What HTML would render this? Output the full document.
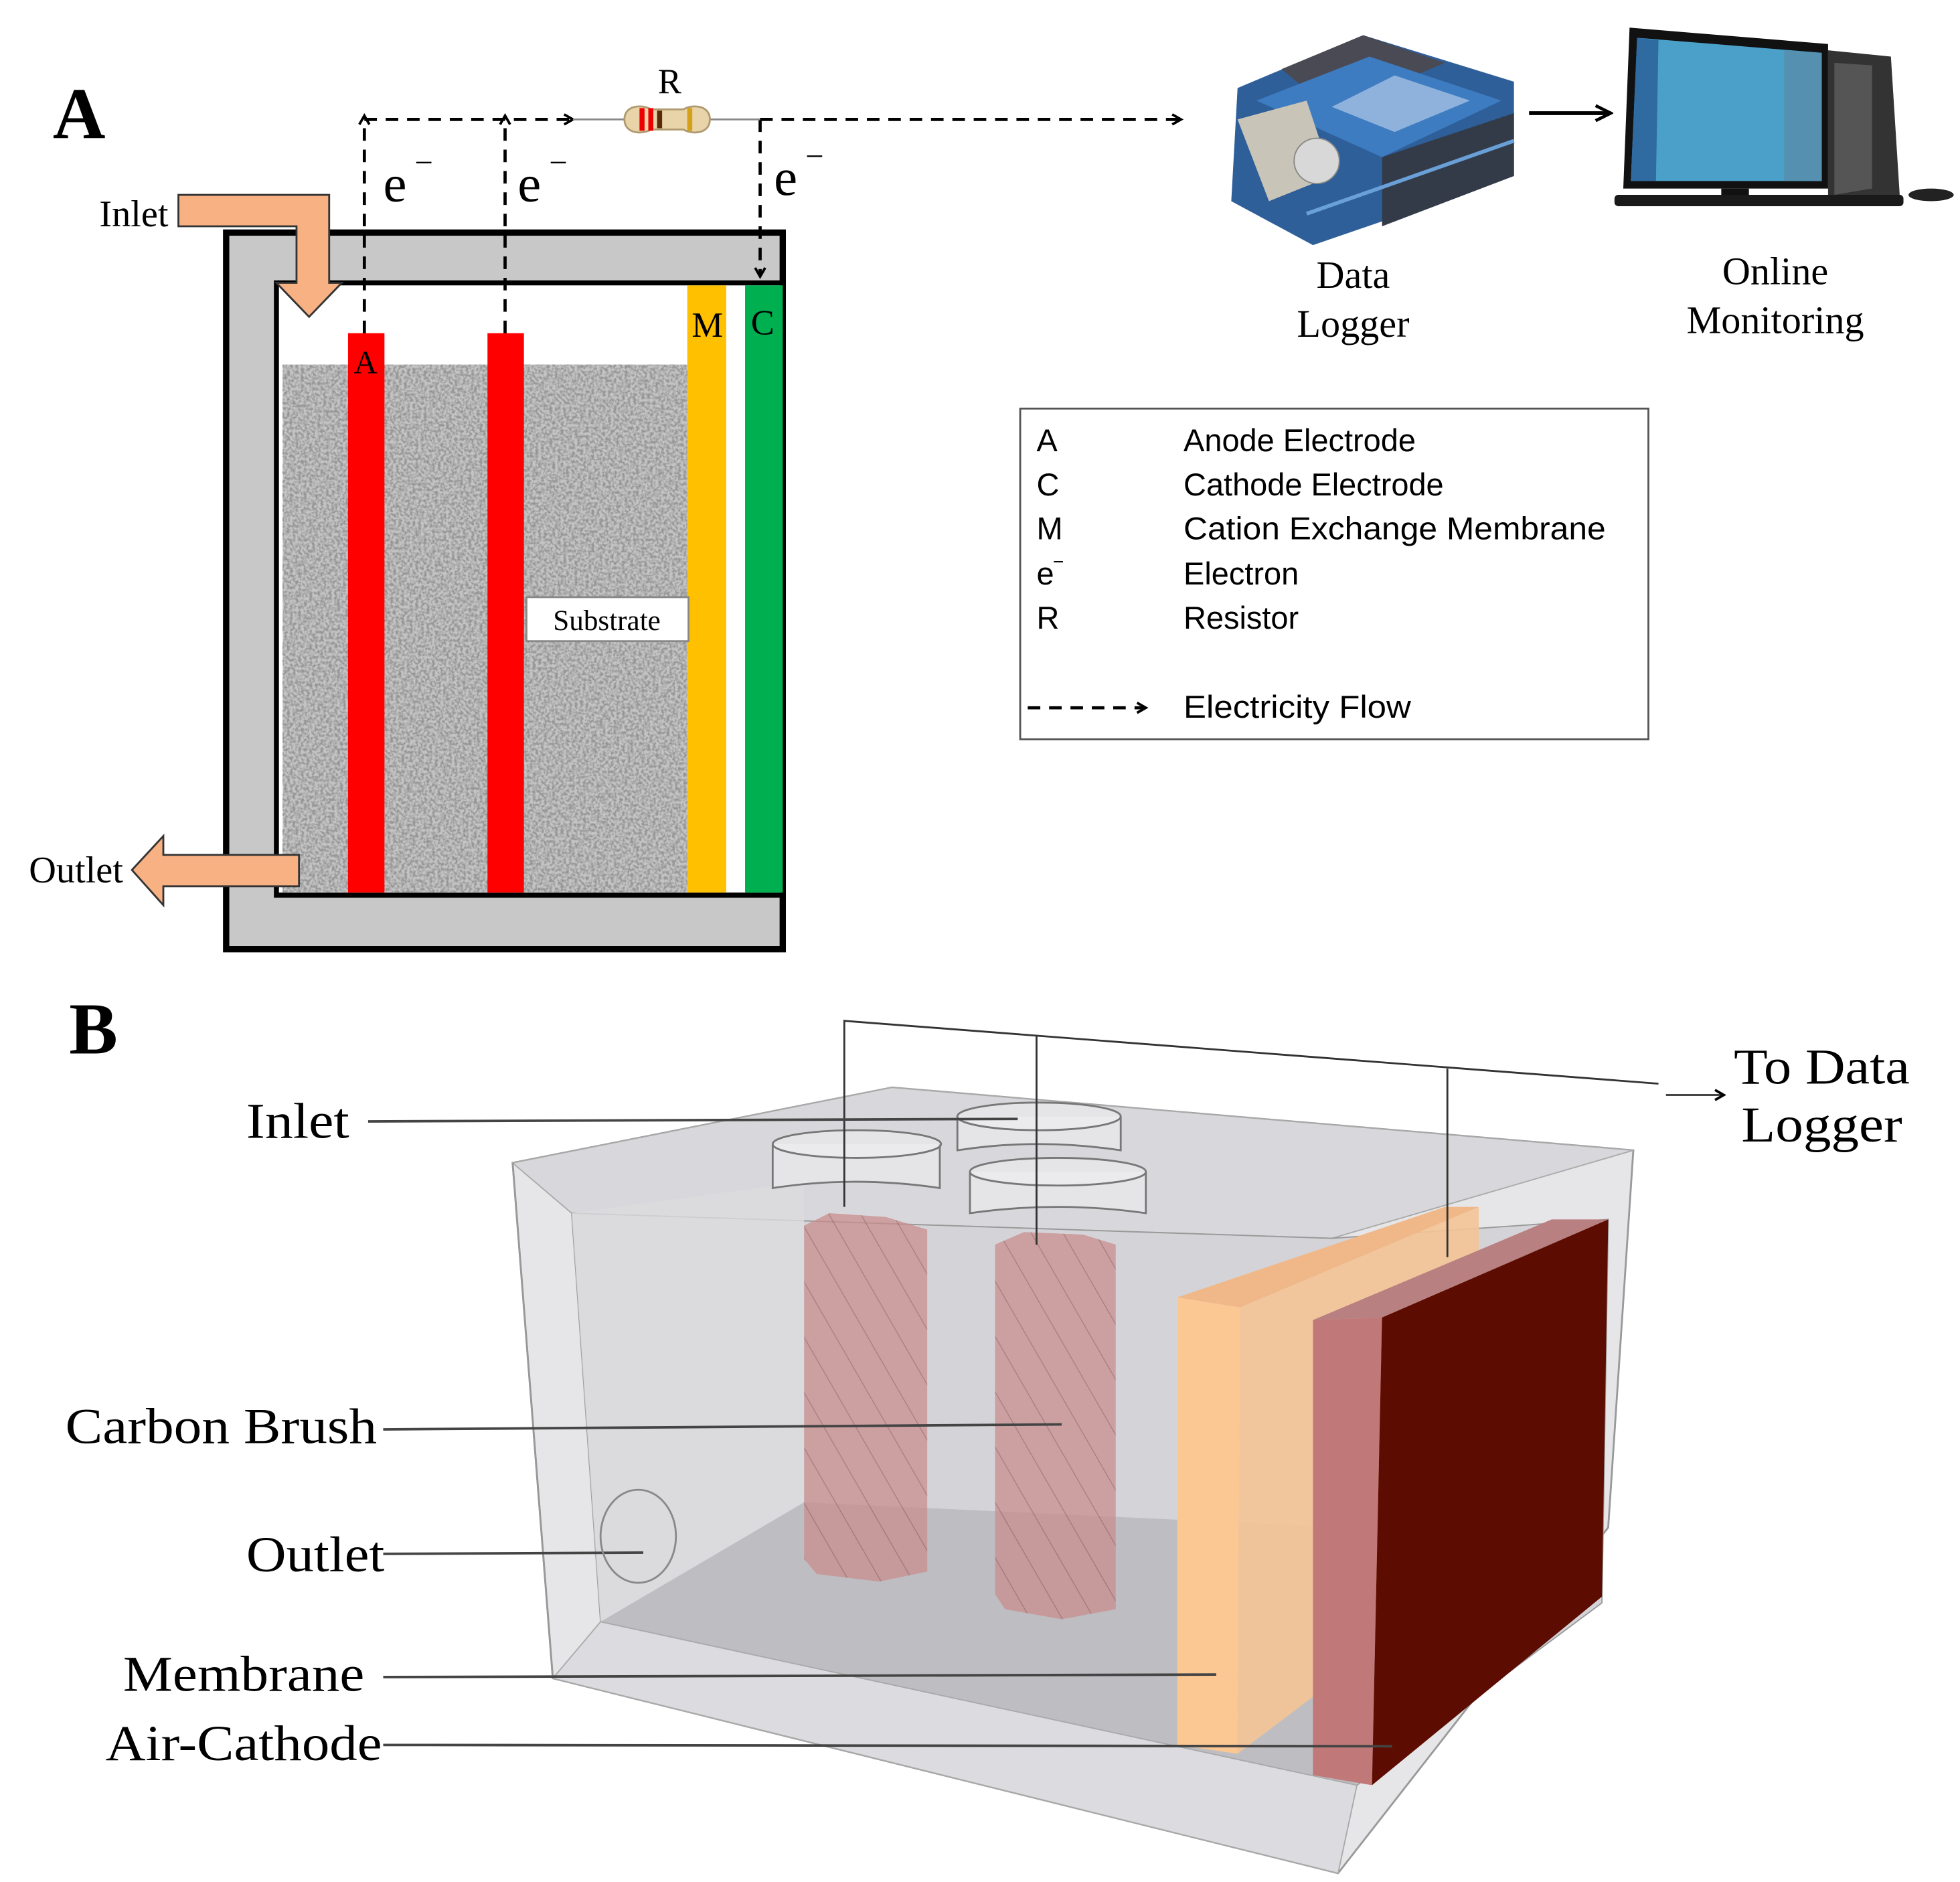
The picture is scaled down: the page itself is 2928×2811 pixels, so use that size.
<!DOCTYPE html>
<html><head><meta charset="utf-8"><style>
html,body{margin:0;padding:0;background:#fff;}
svg{display:block;}
.s{font-family:"Liberation Serif",serif;}
.n{font-family:"Liberation Sans",sans-serif;}
</style></head><body>
<svg width="2928" height="2811" viewBox="0 0 1560 1497" preserveAspectRatio="none" xmlns="http://www.w3.org/2000/svg">
<defs>
<filter id="noise" x="0" y="0" width="100%" height="100%">
<feTurbulence type="fractalNoise" baseFrequency="0.45" numOctaves="2" seed="3"/>
<feColorMatrix type="matrix" values="0 0 0 0 0.3  0 0 0 0 0.3  0 0 0 0 0.3  -3 0 0 0 1.9"/>
</filter>
<marker id="ah" markerWidth="10" markerHeight="10" refX="8" refY="5" orient="auto" markerUnits="userSpaceOnUse">
<path d="M1,1 L8,5 L1,9" fill="none" stroke="#000" stroke-width="2"/>
</marker>
<marker id="ah2" markerWidth="16" markerHeight="16" refX="14" refY="8" orient="auto" markerUnits="userSpaceOnUse">
<path d="M2,2 L14,8 L2,14" fill="none" stroke="#000" stroke-width="2.5"/>
</marker>
<pattern id="twist" width="22" height="22" patternUnits="userSpaceOnUse" patternTransform="rotate(-30)">
<rect width="22" height="22" fill="#c98d8d"/>
<line x1="0" y1="0" x2="0" y2="22" stroke="#9b6565" stroke-width="1.5"/>
</pattern>
</defs>

<text x="42" y="110" class="s" font-size="58" font-weight="bold">A</text>

<rect x="180" y="185" width="443" height="570" fill="#c8c8c8" stroke="#000" stroke-width="5"/>
<rect x="220" y="225" width="403" height="487" fill="#fff" stroke="#000" stroke-width="4"/>
<rect x="225" y="290" width="322" height="420" fill="#c4c4c4"/>
<rect x="225" y="290" width="322" height="420" fill="#fff" filter="url(#noise)"/>
<rect x="277" y="265" width="29" height="445" fill="#ff0000"/>
<rect x="388" y="265" width="29" height="445" fill="#ff0000"/>
<rect x="547" y="227" width="31" height="483" fill="#ffc000"/>
<rect x="593" y="227" width="30" height="483" fill="#00b050"/>
<text x="291" y="297" class="s" font-size="26" text-anchor="middle">A</text>
<text x="563" y="268" class="s" font-size="28" text-anchor="middle">M</text>
<text x="607" y="266" class="s" font-size="28" text-anchor="middle">C</text>
<rect x="419" y="475" width="129" height="35" fill="#fff" stroke="#888" stroke-width="1.5"/>
<text x="483" y="501" class="s" font-size="23" text-anchor="middle">Substrate</text>

<path d="M142,155 L262,155 L262,225 L272,225 L246,252 L220,225 L236,225 L236,180 L142,180 Z" fill="#f8b183" stroke="#333" stroke-width="1.5"/>
<text x="134" y="180" class="s" font-size="30" text-anchor="end">Inlet</text>
<path d="M238,680 L130,680 L130,665 L105,692 L130,720 L130,705 L238,705 Z" fill="#f8b183" stroke="#333" stroke-width="1.5"/>
<text x="98" y="702" class="s" font-size="30" text-anchor="end">Outlet</text>

<g stroke="#000" stroke-width="2.5" stroke-dasharray="10,7" fill="none">
<line x1="290" y1="265" x2="290" y2="92" marker-end="url(#ah)"/>
<line x1="402" y1="265" x2="402" y2="92" marker-end="url(#ah)"/>
<line x1="290" y1="95" x2="456" y2="95" marker-end="url(#ah)"/>
<line x1="605" y1="95" x2="940" y2="95" marker-end="url(#ah)"/>
<line x1="605" y1="95" x2="605" y2="220" marker-end="url(#ah)"/>
</g>
<line x1="456" y1="95" x2="605" y2="95" stroke="#888" stroke-width="1.5"/>
<path d="M497,95 C497,83 512,83 518,87 L544,87 C550,83 565,83 565,95 C565,107 550,107 544,103 L518,103 C512,107 497,107 497,95 Z" fill="#e8d4a8" stroke="#b09a70" stroke-width="1.5"/>
<rect x="509" y="86" width="4" height="18" fill="#e00"/>
<rect x="516" y="86" width="4" height="18" fill="#e00"/>
<rect x="523" y="88" width="4" height="14" fill="#5a2a0a"/>
<rect x="547" y="86" width="4" height="18" fill="#d4a017"/>
<text x="533" y="74" class="s" font-size="28" text-anchor="middle">R</text>
<text x="305" y="160" class="s" font-size="42">e</text><text x="330" y="138" class="s" font-size="26">−</text>
<text x="412" y="160" class="s" font-size="42">e</text><text x="437" y="138" class="s" font-size="26">−</text>
<text x="616" y="155" class="s" font-size="42">e</text><text x="641" y="133" class="s" font-size="26">−</text>

<g>
<path d="M985,70 L1085,28 L1205,65 L1205,140 L1045,195 L980,160 Z" fill="#2e5f99"/>
<path d="M1020,55 L1085,28 L1150,50 L1060,88 Z" fill="#4a4a55"/>
<path d="M1000,80 L1090,45 L1195,80 L1100,125 Z" fill="#3d7cc0"/>
<path d="M1110,60 L1170,80 L1110,105 L1060,85 Z" fill="#8fb2dc"/>
<path d="M985,95 L1040,80 L1060,140 L1010,160 Z" fill="#c9c4b8"/>
<circle cx="1048" cy="128" r="18" fill="#d8d8d8" stroke="#888"/>
<path d="M1100,125 L1205,90 L1205,140 L1100,180 Z" fill="#333a48"/>
<line x1="1040" y1="170" x2="1205" y2="112" stroke="#6aa0d8" stroke-width="3"/>
</g>
<text x="1077" y="229" class="s" font-size="31" text-anchor="middle">Data</text>
<text x="1077" y="268" class="s" font-size="31" text-anchor="middle">Logger</text>
<line x1="1217" y1="90" x2="1282" y2="90" stroke="#000" stroke-width="3" marker-end="url(#ah2)"/>

<path d="M1455,40 L1505,45 L1512,155 L1455,160 Z" fill="#333"/>
<path d="M1460,50 L1490,52 L1490,150 L1460,155 Z" fill="#555"/>
<path d="M1297,22 L1455,35 L1455,150 L1292,150 Z" fill="#111"/>
<path d="M1303,30 L1450,42 L1450,144 L1298,144 Z" fill="#4aa0c8"/>
<path d="M1303,30 L1320,32 L1318,144 L1298,144 Z" fill="#2f6aa0"/>
<path d="M1420,40 L1450,42 L1450,144 L1420,144 Z" fill="#5590b0"/>
<rect x="1370" y="150" width="22" height="10" fill="#111"/>
<rect x="1285" y="155" width="230" height="9" rx="3" fill="#1a1a1a"/>
<ellipse cx="1537" cy="155" rx="18" ry="5" fill="#222"/>
<text x="1413" y="226" class="s" font-size="31" text-anchor="middle">Online</text>
<text x="1413" y="265" class="s" font-size="31" text-anchor="middle">Monitoring</text>

<rect x="812" y="325" width="500" height="263" fill="#fff" stroke="#555" stroke-width="1.5"/>
<g class="n" font-size="25">
<text x="825" y="359">A</text><text x="942" y="359">Anode Electrode</text>
<text x="825" y="394">C</text><text x="942" y="394">Cathode Electrode</text>
<text x="825" y="429">M</text><text x="942" y="429" textLength="336" lengthAdjust="spacingAndGlyphs">Cation Exchange Membrane</text>
<text x="825" y="465">e</text><text x="838" y="452" font-size="15">−</text><text x="942" y="465">Electron</text>
<text x="825" y="500">R</text><text x="942" y="500">Resistor</text>
<text x="942" y="571" textLength="181" lengthAdjust="spacingAndGlyphs">Electricity Flow</text>
</g>
<line x1="818" y1="563" x2="912" y2="563" stroke="#000" stroke-width="2.5" stroke-dasharray="10,7" marker-end="url(#ah)"/>

<text x="55" y="838" class="s" font-size="58" font-weight="bold">B</text>

<polygon points="408,925 710,865 1300,915 1280,1215 1065,1490 440,1335" fill="#e6e6e8" stroke="#999" stroke-width="1.5"/>
<polygon points="408,925 710,865 1300,915 1060,985 455,965" fill="#d8d8dc" stroke="#aaa" stroke-width="1"/>
<polygon points="455,965 1060,985 1280,970 1275,1275 1080,1420 478,1290" fill="#d4d4d8" stroke="#999" stroke-width="1"/>
<polygon points="478,1290 640,1195 1070,1215 1080,1420" fill="#bdbdc2"/>
<polygon points="455,965 640,940 640,1195 478,1290" fill="#dcdcdf" opacity="0.8"/>
<polygon points="440,1335 478,1290 1080,1420 1065,1490" fill="#dcdce0" stroke="#aaa" stroke-width="1"/>
<line x1="408" y1="925" x2="440" y2="1335" stroke="#999" stroke-width="1.5"/>

<g fill="#eeeef0" fill-opacity="0.6" stroke="#777" stroke-width="1.5">
<path d="M615,910 L615,945 Q680,935 748,945 L748,910"/>
<ellipse cx="682" cy="910" rx="67" ry="11"/>
<path d="M762,888 L762,915 Q826,905 892,915 L892,888"/>
<ellipse cx="827" cy="888" rx="65" ry="11"/>
<path d="M772,932 L772,965 Q842,955 912,965 L912,932"/>
<ellipse cx="842" cy="932" rx="70" ry="11"/>
</g>

<path d="M640,975 L660,965 L705,968 L738,978 L738,1250 L700,1258 L650,1252 L640,1240 Z" fill="url(#twist)" opacity="0.75"/>
<path d="M792,990 L815,980 L862,982 L888,990 L888,1280 L845,1288 L800,1280 L792,1268 Z" fill="url(#twist)" opacity="0.75"/>

<polygon points="937,1032 1150,960 1177,960 987,1040" fill="#f0b888"/>
<polygon points="987,1040 1177,960 1177,1250 985,1395" fill="#f5c496" opacity="0.9"/>
<polygon points="937,1032 987,1040 985,1395 937,1388" fill="#fbc792"/>
<polygon points="1045,1050 1235,970 1280,970 1100,1048" fill="#b88080"/>
<polygon points="1045,1050 1100,1048 1092,1420 1045,1412" fill="#c07878"/>
<polygon points="1100,1048 1280,970 1275,1270 1092,1420" fill="#5c0c00"/>

<g stroke="#333" stroke-width="1.5" fill="none">
<polyline points="672,960 672,812 1320,862"/>
<line x1="825" y1="990" x2="825" y2="824"/>
<line x1="1152" y1="1000" x2="1152" y2="850"/>
</g>
<line x1="1326" y1="871" x2="1372" y2="871" stroke="#333" stroke-width="1.5" marker-end="url(#ah)"/>
<text x="1450" y="862" class="s" font-size="40" text-anchor="middle" textLength="140" lengthAdjust="spacingAndGlyphs">To Data</text>
<text x="1450" y="908" class="s" font-size="40" text-anchor="middle" textLength="128" lengthAdjust="spacingAndGlyphs">Logger</text>

<g stroke="#444" stroke-width="2">
<line x1="293" y1="892" x2="810" y2="890"/>
<line x1="305" y1="1137" x2="845" y2="1133"/>
<line x1="305" y1="1236" x2="512" y2="1235"/>
<line x1="305" y1="1334" x2="968" y2="1332"/>
<line x1="305" y1="1388" x2="1108" y2="1389"/>
</g>
<ellipse cx="508" cy="1222" rx="30" ry="37" fill="none" stroke="#888" stroke-width="1.5"/>
<g class="s" font-size="40">
<text x="196" y="905" textLength="82" lengthAdjust="spacingAndGlyphs">Inlet</text>
<text x="52" y="1148" textLength="248" lengthAdjust="spacingAndGlyphs">Carbon Brush</text>
<text x="196" y="1250" textLength="110" lengthAdjust="spacingAndGlyphs">Outlet</text>
<text x="98" y="1345" textLength="192" lengthAdjust="spacingAndGlyphs">Membrane</text>
<text x="84" y="1400" textLength="220" lengthAdjust="spacingAndGlyphs">Air-Cathode</text>
</g>
</svg>
</body></html>
